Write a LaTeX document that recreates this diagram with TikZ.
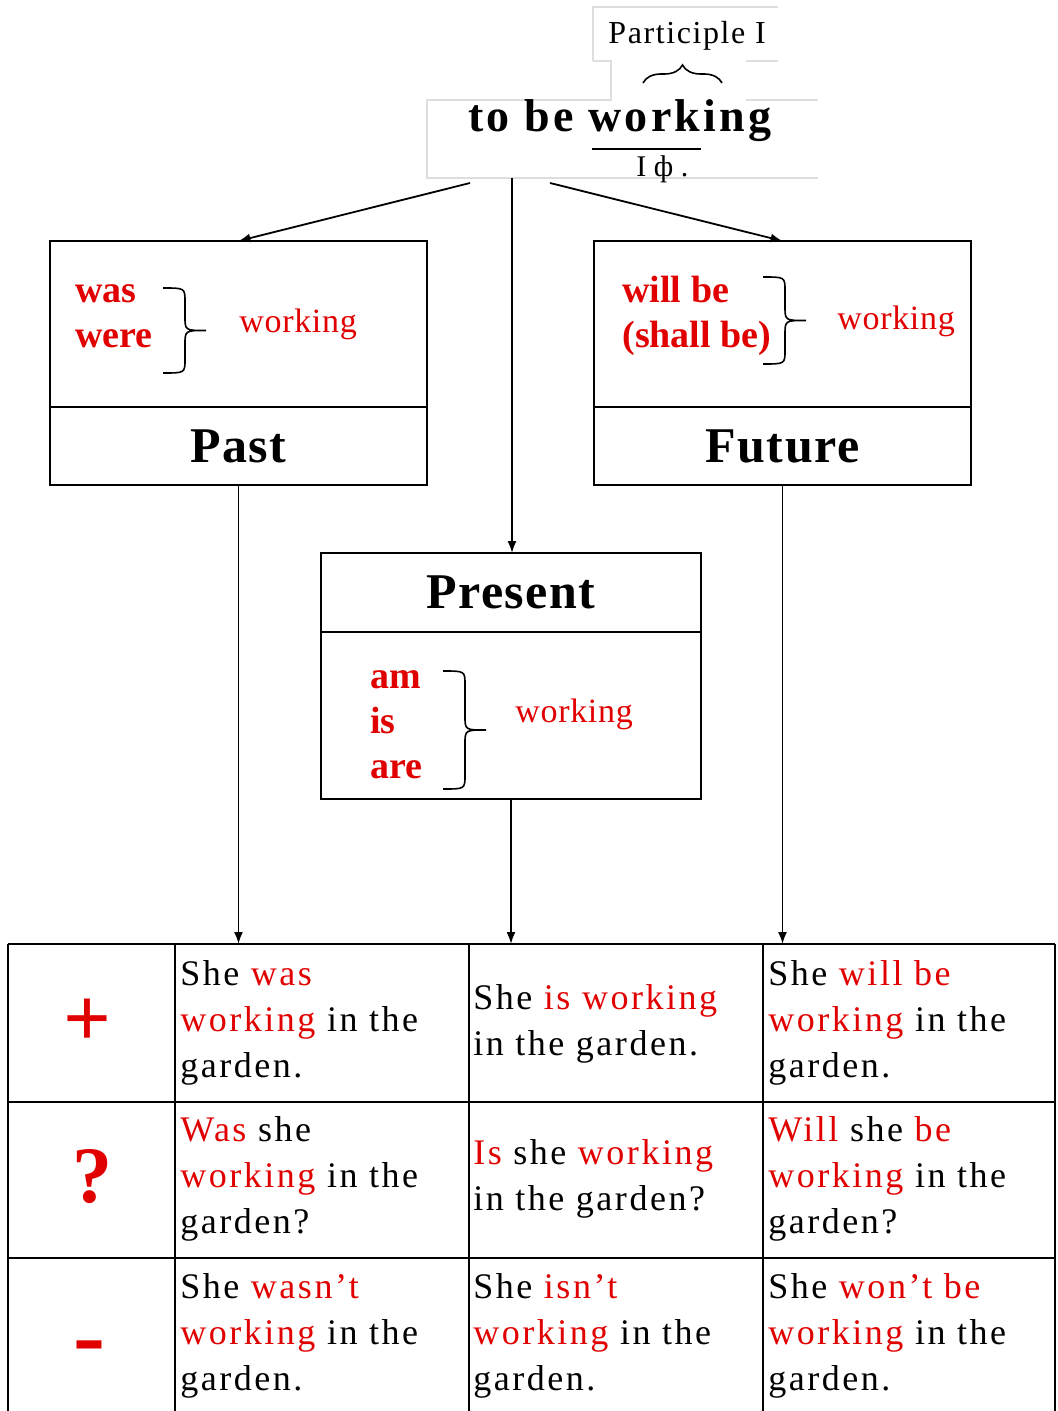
\documentclass[tikz,border=0pt]{standalone}
\usepackage{fontspec}
\setmainfont{Liberation Serif}
\usetikzlibrary{positioning, calc, decorations.pathreplacing, arrows.meta}
\definecolor{formred}{RGB}{225,0,0}
\definecolor{faint}{RGB}{222,222,222}
\newcommand{\redword}[1]{\textcolor{formred}{#1}}

\begin{document}
\begin{tikzpicture}[x=0.5pt, y=-0.5pt,
	box/.style={draw, line width=1pt, inner sep=0pt, outer sep=0pt},
	boxtitle/.style={font=\fontsize{25}{30}\selectfont\bfseries\addfontfeature{LetterSpace=3}},
	auxform/.style={formred, font=\fontsize{19}{22.5}\selectfont\bfseries, align=left, anchor=base west, inner sep=0pt},
	ingform/.style={formred, font=\fontsize{17}{20}\selectfont\addfontfeature{LetterSpace=2}, anchor=base west, inner sep=0pt},
	tabcell/.style={font=\fontsize{18}{23}\selectfont\addfontfeature{LetterSpace=7}, align=left, anchor=base west, inner sep=0pt},
	signmark/.style={formred, anchor=base, inner sep=0pt},
	arr/.style={-{Latex[length=6pt,width=4.5pt]}, line width=0.9pt},
	brc/.style={line width=0.8pt},
	faintline/.style={draw=faint, line width=0.6pt},
	tabline/.style={line width=1pt},
	pics/formbrace/.style={code={
		\draw[brc] (0,0) .. controls (22,0) .. (22,14) -- (22,#1/2-14)
			.. controls (22,#1/2) .. (43,#1/2) .. controls (22,#1/2) .. (22,#1/2+14)
			-- (22,#1-14) .. controls (22,#1) .. (0,#1);
	}}]

\useasboundingbox (0,0) rectangle (1057,1411);

\draw[faintline] (593,61) -- (593,7) -- (778,7);
\draw[faintline] (593,61) -- (611,61) -- (611,100) -- (427,100) -- (427,178) -- (818,178);
\draw[faintline] (746,61) -- (778,61);
\draw[faintline] (746,100) -- (818,100);

\node[anchor=base west, inner sep=0pt, font=\fontsize{16}{19}\selectfont\addfontfeature{LetterSpace=5}] (part) at (608,44) {Participle I};
\draw[brc, decorate, decoration={brace, amplitude=9pt}] (643,83) -- (722,83);
\node[anchor=base west, inner sep=0pt, font=\fontsize{23}{28}\selectfont\bfseries\addfontfeature{LetterSpace=7}] (root) at (468,132) {to be working};
\draw[line width=1pt] (592,149) -- (701,149);
\node[anchor=base west, inner sep=0pt, font=\fontsize{15}{18}\selectfont] (formone) at (636,177) {I ф .};

\coordinate (fork) at (512,178);
\coordinate (forkl) at (470,183);
\coordinate (forkr) at (550,183);
\coordinate (tabtop) at (0,944);

\node[box, minimum width=188.5pt, minimum height=83pt] (pastform) at (238.5,324) {};
\node[box, boxtitle, minimum width=188.5pt, minimum height=39pt, below=0pt of pastform] (pastname) {Past};
\node[auxform] (pastaux) at (75,348) {was\\were};
\pic at (163,288) {formbrace=85};
\node[ingform] (pasting) at (239,333) {working};

\node[box, minimum width=188.5pt, minimum height=83pt] (futform) at (782.5,324) {};
\node[box, boxtitle, minimum width=188.5pt, minimum height=39pt, below=0pt of futform] (futname) {Future};
\node[auxform] (futaux) at (622,348) {will be\\(shall be)};
\pic at (763,277) {formbrace=87};
\node[ingform] (futing) at (837,330) {working};

\node[box, boxtitle, minimum width=190pt, minimum height=39.5pt] (presname) at (511,592.5) {Present};
\node[box, minimum width=190pt, minimum height=83.5pt, below=0pt of presname] (presform) {};
\node[auxform] (presaux) at (370,778) {am\\is\\are};
\pic at (443,671) {formbrace=118};
\node[ingform] (presing) at (515,722) {working};

\draw[arr] (forkl) -- (pastform.north);
\draw[arr] (fork) -- (fork |- presname.north);
\draw[arr] (forkr) -- (futform.north);
\draw[arr] (pastname.south) -- (pastname.south |- tabtop);
\draw[arr] (presform.south) -- (presform.south |- tabtop);
\draw[arr] (futname.south) -- (futname.south |- tabtop);

\foreach \x in {8,175,469,763,1055}
	\draw[tabline] (\x,944) -- (\x,1411);
\foreach \y in {944,1102,1258}
	\draw[tabline] (8,\y) -- (1055,\y);

\node[signmark, font=\fontsize{42}{42}\selectfont\bfseries] (plus) at (87,1046) {+};
\node[signmark, font=\fontsize{40}{40}\selectfont\bfseries] (quest) at (92,1202) {?};
\node[signmark, font=\fontsize{48}{48}\selectfont\bfseries] (minus) at (89,1367) {-};

\node[tabcell] (pastpos) at (180,1077) {She \redword{was}\\\redword{working} in the\\garden.};
\node[tabcell] (prespos) at (473,1055) {She \redword{is working}\\in the garden.};
\node[tabcell] (futpos) at (768,1077) {She \redword{will be}\\\redword{working} in the\\garden.};
\node[tabcell] (pastq) at (180,1233) {\redword{Was} she\\\redword{working} in the\\garden?};
\node[tabcell] (presq) at (473,1210) {\redword{Is} she \redword{working}\\in the garden?};
\node[tabcell] (futq) at (768,1233) {\redword{Will} she \redword{be}\\\redword{working} in the\\garden?};
\node[tabcell] (pastneg) at (180,1390) {She \redword{wasn’t}\\\redword{working} in the\\garden.};
\node[tabcell] (presneg) at (473,1390) {She \redword{isn’t}\\\redword{working} in the\\garden.};
\node[tabcell] (futneg) at (768,1390) {She \redword{won’t be}\\\redword{working} in the\\garden.};
\end{tikzpicture}
\end{document}
